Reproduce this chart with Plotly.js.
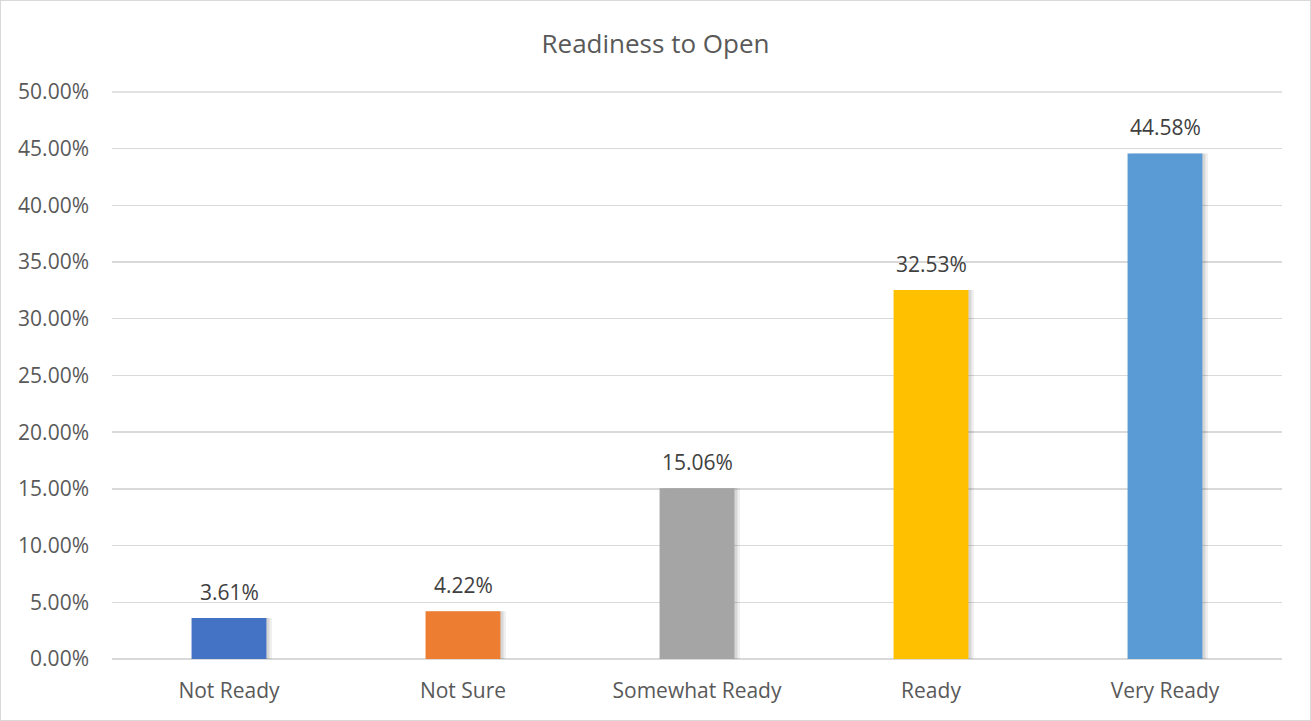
<!DOCTYPE html>
<html>
<head>
<meta charset="utf-8">
<script src="https://cdn.plot.ly/plotly-3.0.1.min.js"></script>
<style>
  html, body { margin: 0; padding: 0; background: #fff; }
  #chart { width: 1309px; height: 719px; border: 1px solid #d9d9d9; }
</style>
</head>
<body>
<div id="chart"></div>
<script>
const categories = ["Not Ready", "Not Sure", "Somewhat Ready", "Ready", "Very Ready"];
const values = [0.0361, 0.0422, 0.1506, 0.3253, 0.4458];
const barColors = ["#4472C4", "#ED7D31", "#A5A5A5", "#FFC000", "#5B9BD5"];
const yTicks = [0, 0.05, 0.10, 0.15, 0.20, 0.25, 0.30, 0.35, 0.40, 0.45, 0.50];

const fontFam = "'Open Sans', sans-serif";
const textColor = "#595959";

const shadowOuter = {
  type: "bar",
  x: categories,
  y: values,
  width: 0.32,
  offset: -0.16 + 0.024,
  marker: { color: "rgba(0,0,0,0.06)", line: { width: 0 } },
  hoverinfo: "skip",
  showlegend: false
};

const shadow = {
  type: "bar",
  x: categories,
  y: values,
  width: 0.32,
  offset: -0.16 + 0.013,
  marker: { color: "rgba(0,0,0,0.10)", line: { width: 0 } },
  hoverinfo: "skip",
  showlegend: false
};

const bars = {
  type: "bar",
  x: categories,
  y: values,
  width: 0.32,
  offset: -0.16,
  marker: { color: barColors, line: { width: 0 } },
  showlegend: false
};

const labels = categories.map((c, i) => ({
  x: c,
  y: values[i],
  xref: "x",
  yref: "y",
  text: (values[i] * 100).toFixed(2) + "%",
  showarrow: false,
  yanchor: "bottom",
  yshift: 10,
  font: { family: fontFam, size: 21, color: "#404040" }
}));

const topGrid = yTicks[yTicks.length - 1];

const layout = {
  width: 1309,
  height: 719,
  margin: { l: 111, r: 28, t: 90, b: 61 },
  paper_bgcolor: "#ffffff",
  plot_bgcolor: "#ffffff",
  barmode: "overlay",
  font: { family: fontFam, size: 21, color: textColor },
  annotations: labels,
  shapes: [{
    type: "line", xref: "paper", yref: "y",
    x0: 0, x1: 1, y0: topGrid, y1: topGrid,
    line: { color: "#d9d9d9", width: 1.5 },
    layer: "below"
  }],
  title: {
    text: "Readiness to Open",
    font: { family: fontFam, size: 26, color: textColor },
    x: 0.5,
    xref: "container",
    y: 0.941,
    yref: "container",
    yanchor: "middle"
  },
  xaxis: {
    type: "category",
    showgrid: false,
    zeroline: false,
    showline: false,
    ticks: "",
    ticklabelstandoff: 17,
    tickfont: { family: fontFam, size: 21, color: textColor }
  },
  yaxis: {
    range: [0, 0.5008],
    tickvals: yTicks,
    tickformat: ".2%",
    showgrid: true,
    gridcolor: "#d9d9d9",
    gridwidth: 1.5,
    zeroline: true,
    zerolinecolor: "#d9d9d9",
    zerolinewidth: 1.5,
    showline: false,
    ticks: "",
    ticklabelstandoff: 22,
    tickfont: { family: fontFam, size: 21, color: textColor }
  }
};

Plotly.newPlot("chart", [shadowOuter, shadow, bars], layout, { displayModeBar: false, staticPlot: true });
</script>
</body>
</html>
